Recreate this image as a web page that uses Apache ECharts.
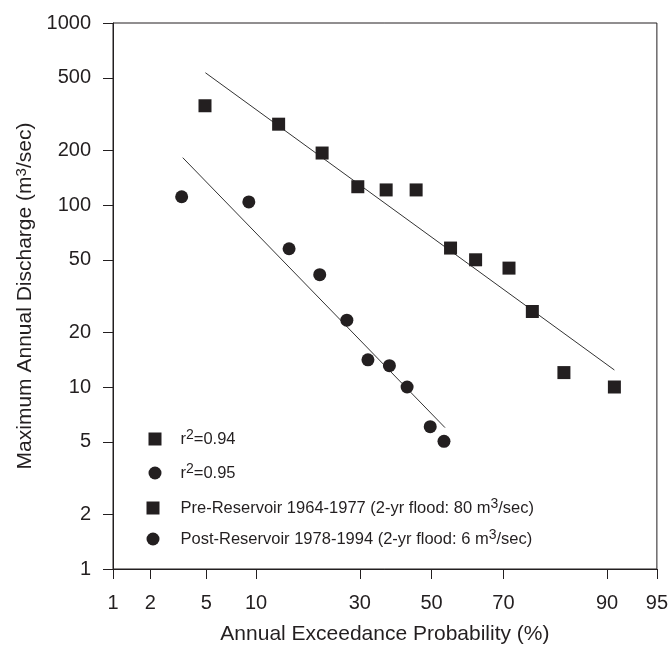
<!DOCTYPE html>
<html>
<head>
<meta charset="utf-8">
<script src="https://cdn.jsdelivr.net/npm/echarts@6/dist/echarts.min.js"></script>
<style>html,body{margin:0;padding:0;background:#fff}#c{width:671px;height:651px}</style>
</head>
<body>
<div id="c"></div>
<script>
// ---- data ----
const preProb = [4.9, 13.2, 21.2, 29.5, 37.0, 45.5, 55.5, 62.6, 71.4, 76.9, 83.3, 90.9];
const preQ    = [351, 278, 193, 126, 121, 121, 58, 50, 45, 26, 12, 10];
const postProb = [3.4, 9.1, 14.9, 20.7, 26.8, 32.1, 37.9, 42.9, 49.6, 53.6];
const postQ    = [111, 104, 57.5, 41.4, 23.3, 14.1, 13.1, 10.0, 6.05, 5.03];
const preFitProb  = [4.93, 90.9];
const preFitQ     = [533, 12.4];
const postFitProb = [3.46, 53.9];
const postFitQ    = [182, 5.98];
const xTickProb = [1, 2, 5, 10, 30, 50, 70, 90, 95];
const yTicks = [1, 2, 5, 10, 20, 50, 100, 200, 500, 1000];

// normal-probability scale transform (inverse normal CDF, Acklam)
function probit(p){
  const a=[-3.969683028665376e+01,2.209460984245205e+02,-2.759285104469687e+02,1.383577518672690e+02,-3.066479806614716e+01,2.506628277459239e+00];
  const b=[-5.447609879822406e+01,1.615858368580409e+02,-1.556989798598866e+02,6.680131188771972e+01,-1.328068155288572e+01];
  const c=[-7.784894002430293e-03,-3.223964580411365e-01,-2.400758277161838e+00,-2.549732539343734e+00,4.374664141464968e+00,2.938163982698783e+00];
  const d=[7.784695709041462e-03,3.224671290700398e-01,2.445134137142996e+00,3.754408661907416e+00];
  const pl=0.02425, ph=1-pl; let q,r;
  if(p<pl){q=Math.sqrt(-2*Math.log(p));return (((((c[0]*q+c[1])*q+c[2])*q+c[3])*q+c[4])*q+c[5])/((((d[0]*q+d[1])*q+d[2])*q+d[3])*q+1);}
  if(p<=ph){q=p-0.5;r=q*q;return (((((a[0]*r+a[1])*r+a[2])*r+a[3])*r+a[4])*r+a[5])*q/(((((b[0]*r+b[1])*r+b[2])*r+b[3])*r+b[4])*r+1);}
  q=Math.sqrt(-2*Math.log(1-p));return -(((((c[0]*q+c[1])*q+c[2])*q+c[3])*q+c[4])*q+c[5])/((((d[0]*q+d[1])*q+d[2])*q+d[3])*q+1);
}
const z = p => probit(p / 100);
const xTickZ = xTickProb.map(z);
const pairs = (ps, qs) => ps.map((p, i) => [z(p), qs[i]]);

const INK = '#231f20';
const FONT = 'Liberation Sans, Arial, Helvetica, sans-serif';
const sup = { fontSize: 13, verticalAlign: 'top', lineHeight: 13, fontFamily: FONT, color: INK };

const names = {
  fitPre: 'r{s|2}=0.94',
  fitPost: 'r{s|2}=0.95',
  pre: 'Pre-Reservoir 1964-1977 (2-yr flood: 80 m{s|3}/sec)',
  post: 'Post-Reservoir 1978-1994 (2-yr flood: 6 m{s|3}/sec)'
};

const legendText = pad => ({
  color: INK, fontFamily: FONT, fontSize: 16.5, lineHeight: 22,
  padding: [0, 0, 0, pad],
  rich: { s: Object.assign({}, sup, { fontSize: 14, lineHeight: 14 }) }
});

const chart = echarts.init(document.getElementById('c'), null, { renderer: 'canvas' });
chart.setOption({
  animation: false,
  backgroundColor: '#fff',
  grid: { left: 113, right: 12, top: 23, bottom: 82, show: true, borderColor: INK, borderWidth: 1, backgroundColor: 'transparent' },
  legend: [
    {
      orient: 'vertical', left: 148.5, top: 428, padding: 0, itemWidth: 13, itemHeight: 13, itemGap: 12,
      selectedMode: false,
      data: [{ name: 'fitPre', icon: 'rect' }, { name: 'fitPost', icon: 'circle' }],
      formatter: n => names[n], textStyle: legendText(14)
    },
    {
      orient: 'vertical', left: 146.5, top: 497, padding: 0, itemWidth: 13, itemHeight: 13, itemGap: 9,
      selectedMode: false,
      data: [{ name: 'pre', icon: 'rect' }, { name: 'post', icon: 'circle' }],
      formatter: n => names[n], textStyle: legendText(16)
    }
  ],
  xAxis: {
    type: 'value', min: z(xTickProb[0]), max: z(xTickProb[xTickProb.length - 1]),
    name: 'Annual Exceedance Probability (%)', nameLocation: 'middle', nameGap: 55,
    nameTextStyle: { color: INK, fontFamily: FONT, fontSize: 21 },
    axisLine: { show: true, onZero: false, lineStyle: { color: INK, width: 1 } },
    axisTick: { show: true, inside: false, length: 10, customValues: xTickZ, lineStyle: { color: INK } },
    axisLabel: {
      customValues: xTickZ, margin: 24, color: INK, fontFamily: FONT, fontSize: 20,
      formatter: v => { let best = 0; xTickZ.forEach((t, i) => { if (Math.abs(t - v) < Math.abs(xTickZ[best] - v)) best = i; }); return String(xTickProb[best]); }
    },
    splitLine: { show: false }
  },
  yAxis: {
    type: 'log', logBase: 10, min: 1, max: 1000,
    name: 'Maximum Annual Discharge (m{s|3}/sec)', nameLocation: 'middle', nameGap: 69,
    nameTextStyle: { color: INK, fontFamily: FONT, fontSize: 21, rich: { s: Object.assign({}, sup, { fontSize: 15, lineHeight: 15 }) } },
    axisLine: { show: true, onZero: false, lineStyle: { color: INK, width: 1 } },
    axisTick: { show: true, inside: false, length: 10, customValues: yTicks, lineStyle: { color: INK } },
    axisLabel: { customValues: yTicks, margin: 22, color: INK, fontFamily: FONT, fontSize: 20, formatter: v => String(Math.round(v)) },
    splitLine: { show: false }
  },
  series: [
    { name: 'fitPre', type: 'line', data: pairs(preFitProb, preFitQ), showSymbol: false, symbol: 'none',
      color: INK, lineStyle: { color: '#333', width: 1 }, silent: true, z: 1 },
    { name: 'fitPost', type: 'line', data: pairs(postFitProb, postFitQ), showSymbol: false, symbol: 'none',
      color: INK, lineStyle: { color: '#333', width: 1 }, silent: true, z: 1 },
    { name: 'pre', type: 'scatter', data: pairs(preProb, preQ), symbol: 'rect', symbolSize: 13,
      itemStyle: { color: INK, opacity: 1 }, z: 3 },
    { name: 'post', type: 'scatter', data: pairs(postProb, postQ), symbol: 'circle', symbolSize: 13,
      itemStyle: { color: INK, opacity: 1 }, z: 3 }
  ]
});
</script>
</body>
</html>
